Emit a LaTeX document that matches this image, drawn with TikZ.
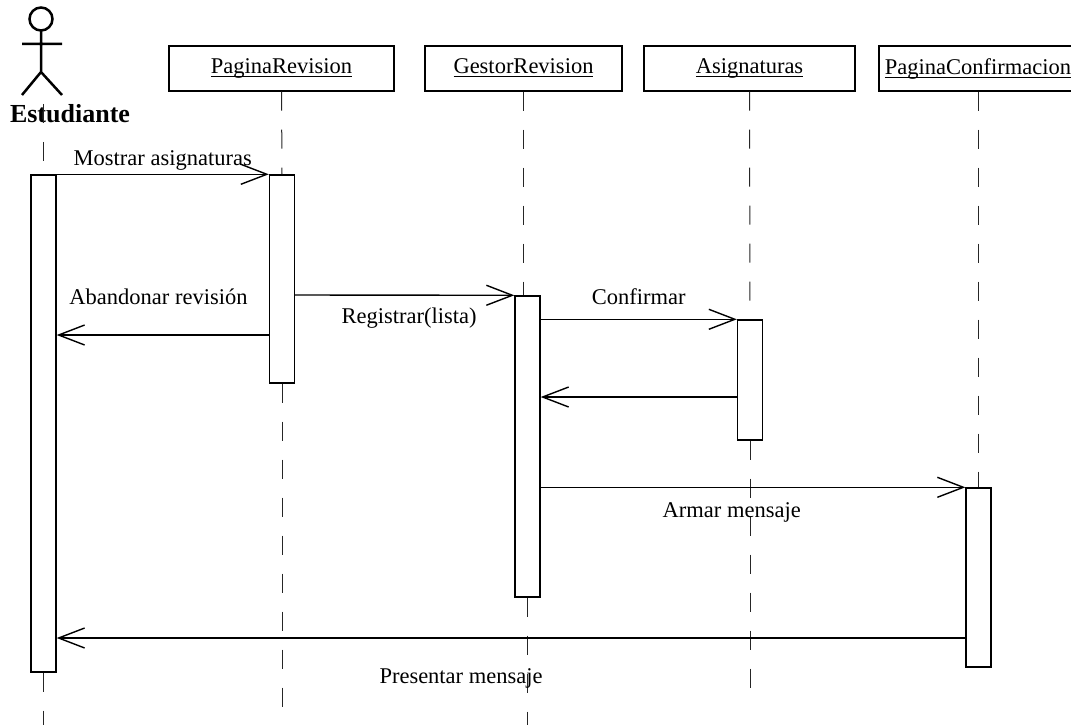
\documentclass[tikz,border=0pt]{standalone}
\usepackage{amsmath}
\usepackage{fontspec}
\setmainfont{Liberation Serif}
\usetikzlibrary{arrows.meta}

\tikzset{
  obj/.style={draw, fill=white, line width=1.4pt, inner sep=0pt, minimum height=45pt, font=\fontsize{22.5}{27}\selectfont},
  act/.style={draw, fill=white, line width=1.4pt, inner sep=0pt, minimum width=25pt},
  life/.style={line width=1pt, black!85, dash pattern=on 19pt off 19pt},
  msg/.style={line width=1.4pt, -{Straight Barb[length=26pt,width=20pt]}},
  lbl/.style={font=\fontsize{22.5}{27}\selectfont, inner sep=0pt, anchor=base}
}

\begin{document}
\begin{tikzpicture}[x=1pt,y=-1pt]
\useasboundingbox (0,0) rectangle (1071,725);
\clip (0,0) rectangle (1071,725);
\draw[line width=2.5pt] (41,19) circle (11.5pt);
\draw[line width=2.5pt] (41,30.5) -- (41,72) (22,44) -- (62,44) (22,95) -- (41,72) -- (62,95);
\node[font=\fontsize{26}{30}\selectfont\bfseries, inner sep=0pt, anchor=base] (est) at (70,122) {Estudiante};
\node[obj, minimum width=225pt] (pr) at (281.5,68.5) {\underline{\smash[b]{PaginaRevision}}};
\node[obj, minimum width=197pt] (gr) at (523.5,68.5) {\underline{\smash[b]{GestorRevision}}};
\node[obj, minimum width=211pt] (as) at (749.5,68.5) {\underline{\smash[b]{Asignaturas}}};
\node[obj, minimum width=198pt] (pc) at (978,68.5) {\underline{\smash[b]{PaginaConfirmacion}}};
\node[act, minimum height=497pt] (aEst) at (43.5,423.5) {};
\node[act, minimum height=208pt] (aPR) at (282,279) {};
\node[act, minimum height=301pt] (aGR) at (527.5,446.5) {};
\node[act, minimum height=120pt] (aAS) at (750,380) {};
\node[act, minimum height=179pt] (aPC) at (978.5,577.5) {};
\draw[life] (aEst.north |- est.north) -- (aEst.north);
\draw[life] (aEst.south) -- (aEst.south |- 0,725);
\draw[life] (pr.south) -- (aPR.north);
\draw[life] (aPR.south) -- (aPR.south |- 0,712);
\draw[life] (gr.south) -- (gr.south |- aGR.north);
\draw[life] (aGR.south) -- (aGR.south |- 0,725);
\draw[life] (as.south) -- (aAS.north);
\draw[life] (aAS.south) -- (aAS.south |- 0,695);
\draw[life] (pc.south) -- (pc.south |- aPC.north);
\draw[msg] (aEst.north east) -- (aPR.north west) node[lbl, midway, yshift=9pt] {Mostrar asignaturas};
\draw[msg] (aPR.west |- 0,335) -- (aEst.east |- 0,335) node[lbl, pos=0.52, yshift=31pt] {Abandonar revisión};
\draw[msg] (aPR.east |- 0,295) -- (aGR.north west) node[lbl, pos=0.52, yshift=-28pt] {Registrar(lista)};
\draw[msg] (aGR.east |- aAS.north) -- (aAS.north west) node[lbl, midway, yshift=15pt] {Confirmar};
\draw[msg] (aAS.west |- 0,397) -- (aGR.east |- 0,397);
\draw[msg] (aGR.east |- aPC.north) -- (aPC.north west) node[lbl, pos=0.45, yshift=-30pt] {Armar mensaje};
\draw[msg] (aPC.west |- 0,638) -- (aEst.east |- 0,638) node[lbl, pos=0.555, yshift=-45pt] {Presentar mensaje};
\end{tikzpicture}
\end{document}
